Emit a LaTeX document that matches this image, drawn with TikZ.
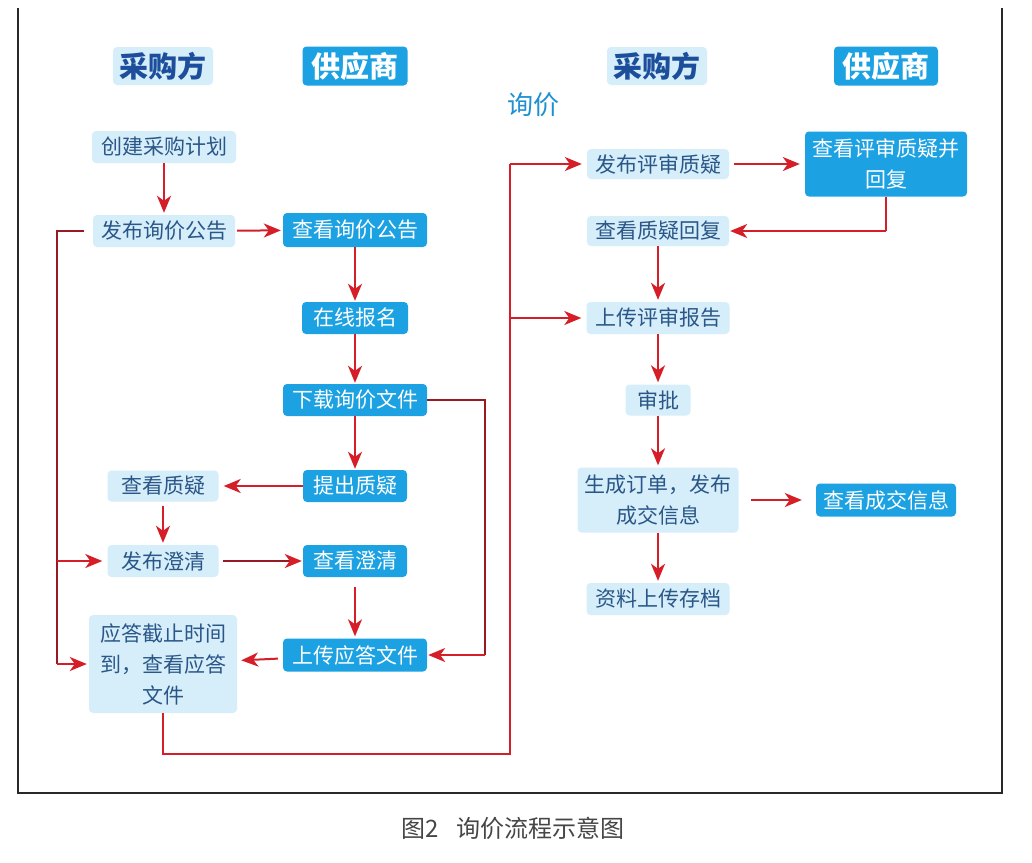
\documentclass[tikz,border=0pt]{standalone}
\usepackage{fontspec}
\setmainfont{Noto Sans CJK SC}
\usetikzlibrary{arrows.meta}
\definecolor{lightbox}{RGB}{214,238,250}
\definecolor{bluebox}{RGB}{28,162,226}
\definecolor{darktext}{RGB}{42,86,136}
\definecolor{headtext}{RGB}{28,78,156}
\definecolor{titleblue}{RGB}{30,144,210}
\definecolor{arrowred}{RGB}{214,30,40}
\definecolor{darkred}{RGB}{150,25,35}
\definecolor{framegray}{RGB}{40,40,40}
\definecolor{captiongray}{RGB}{70,70,70}
\tikzset{
  base/.style={rounded corners=4pt, inner sep=0pt, align=center,
    font=\fontsize{21}{31}\selectfont},
  pbox/.style={base, fill=lightbox, text=darktext},
  sbox/.style={base, fill=bluebox, text=white},
  phead/.style={base, fill=lightbox, text=headtext,
    font=\fontsize{29}{34}\selectfont\bfseries},
  shead/.style={base, fill=bluebox, text=white,
    font=\fontsize{29}{34}\selectfont\bfseries},
  arr/.style={draw=arrowred, line width=2pt,
    -{Stealth[length=17pt,width=14pt,inset=5pt,color=arrowred]},
    shorten <=2pt, shorten >=2pt},
  redline/.style={draw=arrowred, line width=2pt},
  darkline/.style={draw=darkred, line width=2pt},
  darkarr/.style={arr, draw=darkred},
}
\begin{document}
\begin{tikzpicture}[x=1pt,y=-1pt]
\useasboundingbox (0,0) rectangle (1032,862);
\fill[white] (0,0) rectangle (1032,862);
% frame
\draw[framegray, line width=1.6pt] (18,8) -- (18,793) -- (1002,793) -- (1002,8);
% headers
\node[phead, minimum width=100pt, minimum height=38pt] (h1) at (163,66) {采购方};
\node[shead, minimum width=105pt, minimum height=39pt] (h2) at (355,66) {供应商};
\node[phead, minimum width=100pt, minimum height=38pt] (h3) at (657,66) {采购方};
\node[shead, minimum width=104pt, minimum height=39pt] (h4) at (886,66) {供应商};
\node[text=titleblue, font=\fontsize{26}{30}\selectfont, inner sep=0pt] (xj) at (533,105) {询价};
% left part
\node[pbox, minimum width=144pt, minimum height=32pt] (a1) at (164,147) {创建采购计划};
\node[pbox, minimum width=142pt, minimum height=32pt] (a2) at (164,231) {发布询价公告};
\node[sbox, minimum width=144pt, minimum height=34pt] (s1) at (355,230) {查看询价公告};
\node[sbox, minimum width=106pt, minimum height=32pt] (s2) at (355,318) {在线报名};
\node[sbox, minimum width=144pt, minimum height=32pt] (s3) at (355,400) {下载询价文件};
\node[sbox, minimum width=104pt, minimum height=32pt] (s4) at (355,486) {提出质疑};
\node[pbox, minimum width=111pt, minimum height=31pt] (a3) at (163,486) {查看质疑};
\node[pbox, minimum width=111pt, minimum height=32pt] (a4) at (163,561) {发布澄清};
\node[sbox, minimum width=104pt, minimum height=32pt] (s5) at (355,561) {查看澄清};
\node[sbox, minimum width=144pt, minimum height=33pt] (s6) at (355,655) {上传应答文件};
\node[pbox, minimum width=148pt, minimum height=98pt] (a5) at (163,664) {应答截止时间\\到，查看应答\\文件};
% right part
\node[pbox, minimum width=142pt, minimum height=30pt] (b1) at (658,164) {发布评审质疑};
\node[sbox, minimum width=162pt, minimum height=65pt] (c1) at (886,164) {查看评审质疑并\\回复};
\node[pbox, minimum width=142pt, minimum height=30pt] (b2) at (658,231) {查看质疑回复};
\node[pbox, minimum width=143pt, minimum height=32pt] (b3) at (658,318) {上传评审报告};
\node[pbox, minimum width=65pt, minimum height=31pt] (b4) at (658,400) {审批};
\node[pbox, minimum width=161pt, minimum height=65pt] (b5) at (658,500) {生成订单，发布\\成交信息};
\node[sbox, minimum width=140pt, minimum height=33pt] (c2) at (886,500) {查看成交信息};
\node[pbox, minimum width=143pt, minimum height=32pt] (b6) at (658,599) {资料上传存档};
% caption
\node[text=captiongray, font=\fontsize{24}{28}\selectfont, inner sep=0pt] (cap) at (513,828) {图2\hspace{0.7em}询价流程示意图};
% coordinates for routed connectors
\coordinate (ll0) at (84,231);
\coordinate (ll1) at (57,231);
\coordinate (ll2) at (57,664);
\coordinate (rl1) at (485,400);
\coordinate (rl2) at (485,655);
\coordinate (bl1) at (163,754);
\coordinate (bl2) at (510,754);
\coordinate (bl3) at (510,164);
\coordinate (cr) at (886,231);
% left connectors
\draw[arr, shorten <=0pt] (a1) -- (a2);
\draw[arr] (a2) -- (s1);
\draw[arr, shorten <=0pt, shorten >=1pt] (s1) -- (s2);
\draw[arr, shorten <=0pt, shorten >=1pt] (s2) -- (s3);
\draw[arr, shorten <=0pt, shorten >=1pt] (s3) -- (s4);
\draw[arr, shorten <=0pt, shorten >=5pt] (s4) -- (a3);
\draw[arr, shorten <=4pt, shorten >=2pt] (a3) -- (a4);
\draw[darkarr, shorten <=4pt, shorten >=1pt] (a4) -- (s5);
\draw[arr, shorten <=10pt, shorten >=2pt] (s5) -- (s6);
\draw[arr, shorten <=5pt, shorten >=4pt] (s6) -- (a5);
\draw[darkline] (ll0) -- (ll1) -- (ll2);
\draw[arr, shorten <=0pt] (ll2) -- (a5.west);
\draw[arr, shorten <=0pt, shorten >=5pt] (a4.west -| ll1) -- (a4.west);
\draw[darkline] (s3.east) -- (rl1) -- (rl2);
\draw[arr, shorten <=0pt, shorten >=1pt] (rl2) -- (s6.east);
% bottom loop to right part
\draw[redline] (a5.south) -- (bl1) -- (bl2) -- (bl3);
\draw[arr, shorten <=0pt, shorten >=5pt] (bl3) -- (b1.west);
\draw[arr, shorten <=0pt, shorten >=5pt] (b3.west -| bl3) -- (b3.west);
% right connectors
\draw[arr, shorten <=5pt, shorten >=5pt] (b1) -- (c1);
\draw[redline] (c1.south) -- (cr);
\draw[arr, shorten <=0pt, shorten >=1pt] (cr) -- (b2.east);
\draw[arr, shorten <=0pt, shorten >=2pt] (b2) -- (b3);
\draw[arr, shorten <=0pt, shorten >=2pt] (b3) -- (b4);
\draw[arr, shorten <=0pt, shorten >=2pt] (b4) -- (b5);
\draw[arr, shorten <=12pt, shorten >=14pt] (b5) -- (c2);
\draw[arr, shorten <=0pt, shorten >=2pt] (b5) -- (b6);
\end{tikzpicture}
\end{document}
